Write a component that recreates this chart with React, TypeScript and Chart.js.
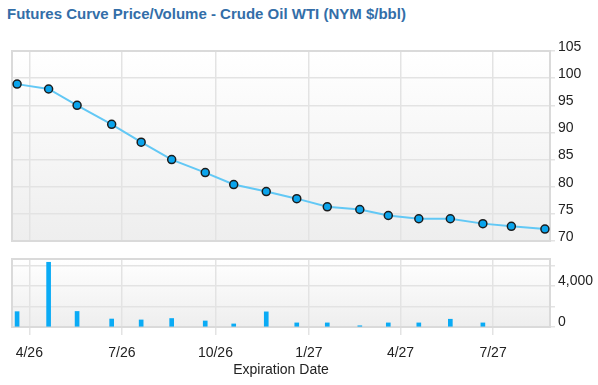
import React, { useEffect, useRef } from "react";
import { Chart, registerables } from "chart.js";

Chart.register(...registerables);

// ---- Data ----
const EXPIRY_DATES = [
  "2026-03-20", "2026-04-20", "2026-05-18", "2026-06-21", "2026-07-20", "2026-08-19",
  "2026-09-21", "2026-10-19", "2026-11-20", "2026-12-20", "2027-01-19", "2027-02-20",
  "2027-03-20", "2027-04-19", "2027-05-20", "2027-06-21", "2027-07-19", "2027-08-21",
];
const PRICES = [
  98.9, 98.0, 95.0, 91.5, 88.2, 85.0, 82.6, 80.4, 79.1,
  77.8, 76.3, 75.8, 74.7, 74.1, 74.1, 73.2, 72.7, 72.2,
];
const VOLUMES: (number | null)[] = [
  1500, 6330, 1520, 780, 690, 830, 590, 300, 1480,
  400, 400, 120, 400, 400, 760, 400, null, null,
];
const TICK_DATES = ["2026-04-01", "2026-07-01", "2026-10-01", "2027-01-01", "2027-04-01", "2027-07-01"];
const TICK_LABELS = ["4/26", "7/26", "10/26", "1/27", "4/27", "7/27"];
const X_RANGE = ["2026-03-15", "2027-08-26"];
const PRICE_TICKS = [70, 75, 80, 85, 90, 95, 100, 105];
const VOLUME_TICKS = [0, 1000, 2000, 3000, 4000, 5000, 6000];
const VOLUME_LABELED = [0, 4000];

const toDay = (s: string) => {
  const [y, m, d] = s.split("-").map(Number);
  return Date.UTC(y, m - 1, d) / 86400000;
};
const TICK_DAYS = TICK_DATES.map(toDay);
const X_MIN = toDay(X_RANGE[0]);
const X_MAX = toDay(X_RANGE[1]);

const FONT = "'Liberation Sans', Arial, sans-serif";
const GRID = "#e3e3e3";
const TEXT = "#222222";

const panelPlugin = {
  id: "panel",
  beforeDraw(chart: any) {
    const { ctx, chartArea: a } = chart;
    const g = ctx.createLinearGradient(0, a.top, 0, a.bottom);
    g.addColorStop(0, "#ffffff");
    g.addColorStop(1, "#eeeeee");
    ctx.save();
    ctx.fillStyle = g;
    ctx.fillRect(a.left, a.top, a.right - a.left, a.bottom - a.top);
    ctx.restore();
  },
  beforeDatasetsDraw(chart: any) {
    const { ctx, chartArea: a } = chart;
    ctx.save();
    ctx.strokeStyle = "#dadada";
    ctx.lineWidth = 2;
    ctx.strokeRect(a.left, a.top, a.right - a.left, a.bottom - a.top);
    ctx.restore();
  },
};

const xTicksBuild = (s: any) => {
  s.ticks = TICK_DAYS.map((v) => ({ value: v }));
};

export default function App() {
  const priceRef = useRef<HTMLCanvasElement>(null);
  const volRef = useRef<HTMLCanvasElement>(null);

  useEffect(() => {
    const days = EXPIRY_DATES.map(toDay);
    const priceChart = new Chart(priceRef.current!, {
      type: "line",
      data: {
        datasets: [
          {
            data: days.map((d, i) => ({ x: d, y: PRICES[i] })),
            borderColor: "#62c8f5",
            borderWidth: 2,
            pointRadius: 4,
            pointBackgroundColor: "#0aa4ec",
            pointBorderColor: "#1c1c1c",
            pointBorderWidth: 1.5,
            tension: 0,
          },
        ],
      },
      options: {
        animation: false,
        responsive: false,
        events: [],
        layout: { padding: { top: 51, left: 12, right: 0, bottom: 144 } },
        plugins: { legend: { display: false }, tooltip: { enabled: false } },
        scales: {
          x: {
            type: "linear",
            min: X_MIN,
            max: X_MAX,
            afterBuildTicks: xTicksBuild,
            ticks: { display: false },
            grid: { color: GRID, lineWidth: 1.5, drawTicks: false },
            border: { display: false },
          },
          y: {
            position: "right",
            min: 70,
            max: 105,
            afterBuildTicks: (s: any) => {
              s.ticks = PRICE_TICKS.map((v) => ({ value: v }));
            },
            afterFit: (s: any) => {
              s.width = 48;
            },
            ticks: {
              color: TEXT,
              font: { family: FONT, size: 14 },
              padding: 3,
              labelOffset: -4,
            },
            grid: { color: GRID, lineWidth: 1.5, tickLength: 5 },
            border: { display: false },
          },
        },
      } as any,
      plugins: [panelPlugin],
    });

    const volChart = new Chart(volRef.current!, {
      type: "bar",
      data: {
        datasets: [
          {
            data: days.map((d, i) => ({ x: d, y: VOLUMES[i] })),
            backgroundColor: "#0aabf5",
            barThickness: 4,
          },
        ],
      },
      options: {
        animation: false,
        responsive: false,
        events: [],
        layout: { padding: { top: 259, left: 12, right: 0, bottom: 0 } },
        plugins: { legend: { display: false }, tooltip: { enabled: false } },
        scales: {
          x: {
            type: "linear",
            min: X_MIN,
            max: X_MAX,
            offset: false,
            afterBuildTicks: xTicksBuild,
            afterFit: (s: any) => {
              s.height = 58;
            },
            ticks: {
              autoSkip: false,
              maxRotation: 0,
              color: TEXT,
              font: { family: FONT, size: 14 },
              padding: 10,
              callback: (v: any) => {
                const i = TICK_DAYS.indexOf(Number(v));
                return i >= 0 ? TICK_LABELS[i] : "";
              },
            },
            title: {
              display: true,
              text: "Expiration Date",
              color: TEXT,
              font: { family: FONT, size: 14 },
              padding: { top: 0, bottom: 6 },
            },
            grid: { color: GRID, lineWidth: 1.5, tickLength: 8, offset: false },
            border: { display: false },
          },
          y: {
            position: "right",
            min: 0,
            max: 6650,
            afterBuildTicks: (s: any) => {
              s.ticks = VOLUME_TICKS.map((v) => ({ value: v }));
            },
            afterFit: (s: any) => {
              s.width = 48;
            },
            ticks: {
              color: TEXT,
              font: { family: FONT, size: 14 },
              padding: 3,
              labelOffset: -5,
              callback: (v: any) =>
                VOLUME_LABELED.includes(Number(v)) ? Number(v).toLocaleString("en-US") : "",
            },
            grid: { color: GRID, lineWidth: 1.5, tickLength: 5 },
            border: { display: false },
          },
        },
      } as any,
      plugins: [panelPlugin],
    });

    return () => {
      priceChart.destroy();
      volChart.destroy();
    };
  }, []);

  const canvasStyle: React.CSSProperties = { position: "absolute", left: 0, top: 0, width: 598, height: 385 };

  return (
    <div style={{ position: "absolute", left: 0, top: 0, width: 598, height: 385, background: "#fff", overflow: "hidden" }}>
      <div
        style={{
          position: "absolute",
          left: 7,
          top: 5,
          fontFamily: FONT,
          fontWeight: "bold",
          fontSize: 15,
          lineHeight: "17px",
          color: "#336ea8",
          whiteSpace: "nowrap",
        }}
      >
        Futures Curve Price/Volume - Crude Oil WTI (NYM $/bbl)
      </div>
      <canvas ref={volRef} width={598} height={385} style={canvasStyle} />
      <canvas ref={priceRef} width={598} height={385} style={canvasStyle} />
    </div>
  );
}
